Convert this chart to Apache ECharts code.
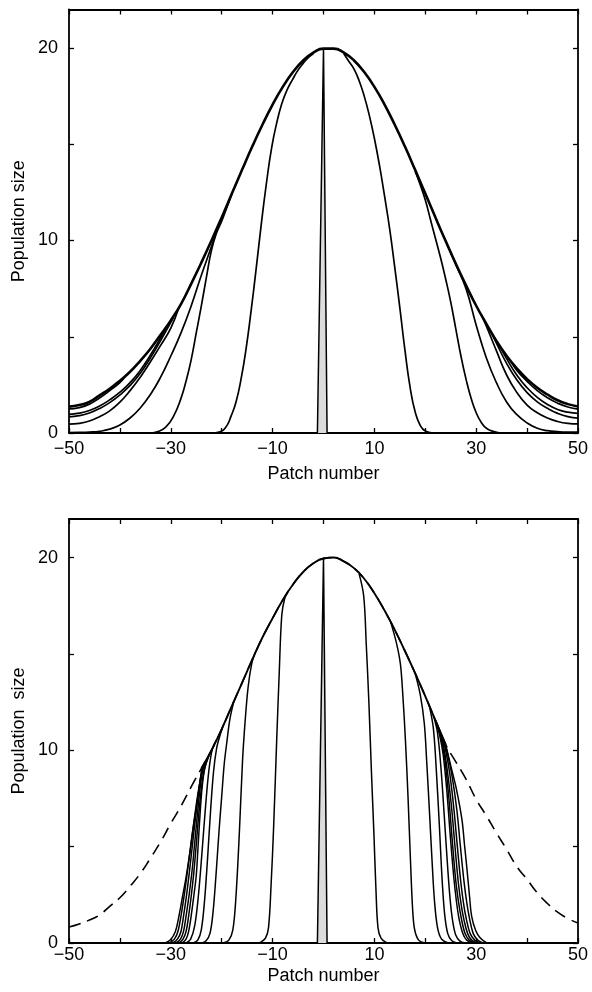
<!DOCTYPE html>
<html>
<head>
<meta charset="utf-8">
<script src="https://cdn.jsdelivr.net/npm/echarts@6/dist/echarts.min.js"></script>
<style>
html,body{margin:0;padding:0;background:#fff;}
#c{width:592px;height:992px;}
</style>
</head>
<body>
<div id="c"></div>
<script>
// ---------- axis ticks / labels ----------
const xTickValues = [-50, -40, -30, -20, -10, 0, 10, 20, 30, 40, 50];
const xLabelValues = [-50, -30, -10, 10, 30, 50];
const yTickValues = [0, 5, 10, 15, 20];
const yLabelValues = [0, 10, 20];
const xAxisTitle = 'Patch number';
const yAxisTitleTop = 'Population size';
const yAxisTitleBottom = 'Population  size';

// ---------- shared patch grid ----------
const patchGrid = [-50,-48,-46,-44,-42,-40,-38,-36,-34,-32,-30,-28,-26,-24,-22,-20,-18,-16,-14,-12,-10,-8,-6,-4,-2,0,
  2,4,6,8,10,12,14,16,18,20,22,24,26,28,30,32,34,36,38,40,42,44,46,48,50];

// ---------- top panel ----------
const topEnvelope = [1.37,1.45,1.62,1.95,2.30,2.72,3.18,3.75,4.38,5.10,5.85,6.70,7.75,8.85,10.0,11.2,12.44,13.67,14.88,16.01,17.06,17.98,18.75,19.35,19.76,19.97,
  19.97,19.76,19.35,18.75,17.98,17.06,16.01,14.88,13.67,12.44,11.19,9.97,8.79,7.67,6.61,5.67,4.77,4.00,3.35,2.80,2.35,2.00,1.70,1.50,1.38];
const initialSpike = [[-1.2,0],[0,20],[0.7,0]];
const topFront20Left = [[-22,0],[-20.5,0.05],[-19.2,0.3],[-18.2,0.85],[-17.2,1.6],[-16.2,2.8],[-15.2,4.4],[-14.2,6.4],[-13.2,8.6],[-12.2,10.9],[-11.2,13.0],[-10.2,14.8],[-9.2,16.1],[-8.2,17.1],[-7.2,17.8],[-6,18.4],[-5,18.85],[-4,19.2],[-3,19.5],[-2,19.7]];
const topFront20Right = [[4,19.7],[5,19.3],[6,18.9],[7,18.3],[8,17.5],[9,16.5],[10,15.3],[11,13.9],[12,12.3],[13,10.6],[14,8.6],[15,6.5],[16,4.3],[17,2.4],[18,1.1],[19,0.4],[20,0.1],[21.5,0]];
const topFront32Left = [[-34,0],[-32.5,0.08],[-31,0.3],[-29.5,0.85],[-28,1.8],[-27,2.7],[-26,3.8],[-25,5.2],[-24,6.6],[-23,8.1],[-22,9.5],[-21,10.4],[-20,11.0],[-19,11.7],[-18,12.4]];
const topFront32Right = [[18,13.6],[19,12.9],[20,12.1],[21,11.1],[22,10.1],[23,9.1],[24,8.0],[25,6.8],[26,5.4],[27,4.0],[28,2.8],[29,1.8],[30,1.05],[31,0.55],[32,0.25],[33.5,0.07],[35,0]];
const topFront46Left = [[-50,0.02],[-48,0.03],[-46,0.05],[-44,0.09],[-42,0.2],[-40,0.42],[-38,0.78],[-36,1.3],[-34,2.0],[-32,2.9],[-30,4.0],[-28,5.2],[-26,6.6],[-24,8.2],[-22,9.7],[-21,10.5]];
const topFront46Right = [[24,9.97],[26,8.75],[28,7.5],[30,5.6],[32,3.9],[34,2.6],[36,1.6],[38,0.95],[40,0.52],[42,0.25],[44,0.12],[46,0.07],[48,0.05],[50,0.05]];
const topEdge05Left = [[-50,0.46],[-48,0.5],[-46,0.62],[-44,0.85],[-42,1.15],[-40,1.6],[-38,2.2],[-36,2.9],[-34,3.7],[-32,4.55],[-30,5.45],[-28.5,6.45]];
const topEdge05Right = [[31,6.15],[32,5.55],[34,4.25],[36,3.0],[38,2.1],[40,1.45],[42,1.05],[44,0.78],[46,0.6],[48,0.5],[50,0.47]];
const topEdge08Left = [[-50,0.84],[-48,0.9],[-46,1.04],[-44,1.27],[-42,1.58],[-40,1.98],[-38,2.47],[-36,3.1],[-34,3.9],[-32,4.8],[-30,5.75],[-29.5,6.0]];
const topEdge08Right = [[33,5.2],[34,4.65],[36,3.6],[38,2.75],[40,2.1],[42,1.62],[44,1.28],[46,1.02],[48,0.85],[50,0.77]];
const topEdge10Left = [[-50,0.97],[-48,1.03],[-46,1.17],[-44,1.4],[-42,1.72],[-40,2.12],[-38,2.62],[-36,3.25],[-34,4.05],[-32,4.95],[-31,5.45]];
const topEdge10Right = [[35,4.35],[36,3.85],[38,3.0],[40,2.35],[42,1.85],[44,1.48],[46,1.22],[48,1.08],[50,1.02]];
const topEdge12Left = [[-50,1.25],[-48,1.32],[-46,1.5],[-44,1.82],[-42,2.2],[-40,2.62],[-39,2.92]];
const topEdge12Right = [[37,3.65],[38,3.25],[40,2.68],[42,2.2],[44,1.83],[46,1.55],[48,1.35],[50,1.24]];

// ---------- bottom panel ----------
const bottomCarrying = [0.83,0.99,1.19,1.46,1.9,2.35,2.95,3.6,4.4,5.25,6.2,7.1,8.1,9.05,10.0,11.1,12.3,13.5,14.7,15.85,16.85,17.8,18.6,19.25,19.7,19.95,
  20.0,19.8,19.45,18.9,18.15,17.25,16.25,15.15,14.0,12.8,11.55,10.3,9.4,8.5,7.45,6.6,5.7,4.85,3.96,3.3,2.6,2.05,1.6,1.27,1.04];
const occupiedRange = [-24, 24];
const botG1Left = [[-13,0],[-12.3,0.05],[-11.4,0.25],[-10.8,0.8],[-10.3,3.0],[-9.8,6.0],[-9.2,10.5],[-8.7,14.0],[-8.2,17.0],[-7.6,17.9],[-7.0,18.2]];
const botG1Right = [[7.0,19.15],[7.9,18.0],[8.4,15.5],[8.9,12.6],[9.4,9.0],[9.9,5.7],[10.3,2.8],[10.7,0.8],[11.3,0.25],[12.2,0.05],[13,0]];
const botG2Left = [[-19.8,0],[-18.6,0.15],[-17.8,0.7],[-17.2,2.4],[-16.5,5.9],[-15.9,9.5],[-15.4,11.5],[-14.8,13.3],[-14.1,14.5],[-13.4,15.1]];
const botG2Right = [[13.2,16.65],[14.3,15.6],[15.1,14.5],[15.6,12.8],[16.1,10.5],[16.6,7.6],[17.1,4.2],[17.5,1.8],[17.9,0.7],[18.7,0.15],[20,0]];
const botG3Left = [[-24,0],[-23.1,0.1],[-22.3,0.5],[-21.7,1.6],[-21.1,3.6],[-20.5,5.9],[-20.0,7.6],[-19.5,9.3],[-19.0,10.4],[-18.4,11.6],[-17.6,12.55]];
const botG3Right = [[18.0,14.0],[19.0,12.9],[19.8,11.4],[20.3,9.3],[20.8,6.9],[21.3,4.4],[21.8,2.2],[22.4,0.8],[23.2,0.2],[24.5,0]];
const botG4Left = [[-25.6,0],[-24.7,0.15],[-24.0,0.7],[-23.4,2.1],[-22.8,4.3],[-22.2,6.8],[-21.6,8.9],[-21.0,10.1],[-20.3,10.8],[-19.6,11.35]];
const botG4Right = [[20.8,12.3],[21.6,11.1],[22.2,8.8],[22.8,5.9],[23.3,3.3],[23.8,1.5],[24.4,0.5],[25.2,0.12],[26.2,0]];
const botG5Left = [[-27.0,0],[-26.1,0.2],[-25.3,0.9],[-24.6,2.4],[-23.9,4.6],[-23.2,7.0],[-22.5,9.0],[-21.8,10.1],[-21.0,10.55]];
const botG5Right = [[21.6,11.8],[22.4,10.9],[23.1,9.0],[23.8,6.3],[24.4,3.9],[24.9,2.2],[25.4,1.1],[26.0,0.4],[26.8,0.1],[27.8,0]];
const botC1Left = [[-27.8,0],[-27.0,0.2],[-26.5,0.6],[-26.0,1.4],[-25.5,2.4],[-25.0,3.5],[-24.6,5.2],[-24.2,6.9],[-23.8,8.2],[-23.3,9.1],[-22.7,9.6],[-22.0,10.0]];
const botC1Right = [[22.0,11.55],[22.8,10.8],[23.5,9.8],[24.2,8.0],[24.9,5.6],[25.6,3.4],[26.1,2.2],[26.6,1.3],[27.3,0.55],[28.1,0.15],[29.1,0]];
const botC2Left = [[-28.4,0],[-27.6,0.2],[-27.0,0.6],[-26.5,1.4],[-26.0,2.4],[-25.5,3.6],[-25.0,5.1],[-24.5,6.7],[-24.0,8.0],[-23.5,8.9],[-22.9,9.45],[-22.3,9.85]];
const botC2Right = [[22.4,11.3],[23.2,10.5],[23.9,9.4],[24.6,7.6],[25.3,5.3],[26.0,3.2],[26.6,2.0],[27.1,1.25],[27.8,0.5],[28.6,0.15],[29.6,0]];
const botC3Left = [[-29.0,0],[-28.1,0.2],[-27.5,0.6],[-27.0,1.4],[-26.4,2.5],[-25.8,3.8],[-25.3,5.2],[-24.8,6.6],[-24.3,7.9],[-23.8,8.85],[-23.2,9.4]];
const botC3Right = [[22.8,11.05],[23.6,10.2],[24.3,9.0],[25.1,7.2],[25.8,5.1],[26.5,3.1],[27.1,1.9],[27.6,1.2],[28.3,0.5],[29.1,0.15],[30.1,0]];
const botC4Left = [[-29.6,0],[-28.7,0.2],[-28.0,0.6],[-27.5,1.4],[-26.9,2.5],[-26.3,3.8],[-25.7,5.2],[-25.1,6.6],[-24.5,7.9],[-24.0,8.8],[-23.5,9.3]];
const botC4Right = [[23.2,10.8],[24.0,10.0],[24.8,8.8],[25.6,7.0],[26.3,5.0],[27.0,3.1],[27.6,1.9],[28.1,1.2],[28.8,0.5],[29.7,0.15],[30.7,0]];
const botC5Left = [[-30.3,0],[-29.3,0.2],[-28.6,0.6],[-28.0,1.4],[-27.3,2.6],[-26.6,4.0],[-25.9,5.4],[-25.3,6.6],[-24.7,7.7],[-24.1,8.6],[-23.6,9.2]];
const botC5Right = [[23.6,10.55],[24.4,9.8],[25.3,8.6],[26.2,6.9],[26.9,5.0],[27.6,3.2],[28.2,2.0],[28.7,1.25],[29.4,0.5],[30.3,0.15],[31.3,0]];
const botC6Left = [[-31.1,0],[-30.1,0.15],[-29.1,0.6],[-28.4,1.4],[-27.7,2.4],[-27.0,3.4],[-26.3,4.6],[-25.7,5.8],[-25.0,7.0],[-24.4,8.1],[-24.0,8.85],[-23.8,9.15]];
const botC6Right = [[24.0,10.3],[24.9,9.3],[26.1,8.0],[27.2,6.4],[27.7,5.1],[28.2,3.8],[28.7,2.4],[29.1,1.4],[29.9,0.65],[30.8,0.26],[32.1,0]];

// ---------- build chart ----------
const FONT = '"Liberation Sans", Arial, Helvetica, sans-serif';
const BLACK = '#000';
const fmtMinus = v => String(v).replace('-', '\u2212');
const topPairs = patchGrid.map((x, i) => [x, topEnvelope[i]]);
const botPairs = patchGrid.map((x, i) => [x, bottomCarrying[i]]);
const botOccupied = botPairs.filter(p => p[0] >= occupiedRange[0] && p[0] <= occupiedRange[1]);

function grid(top, height) {
  return { left: 69, top: top, width: 509, height: height, containLabel: false, outerBoundsMode: 'none' };
}
function xAxes(gi, labelMargin, nameGap) {
  const common = {
    type: 'value', gridIndex: gi, min: -50, max: 50,
    axisLine: { show: true, onZero: false, lineStyle: { color: BLACK, width: 1.8 } },
    axisTick: { show: true, inside: true, length: 5, customValues: xTickValues, lineStyle: { color: BLACK, width: 1.3 } },
    splitLine: { show: false }
  };
  return [
    Object.assign({}, common, {
      position: 'bottom',
      axisLabel: { show: true, customValues: xLabelValues, formatter: fmtMinus, margin: labelMargin, color: BLACK, fontSize: 18, fontFamily: FONT },
      name: xAxisTitle, nameLocation: 'middle', nameGap: nameGap, nameMoveOverlap: false,
      nameTextStyle: { color: BLACK, fontSize: 18, fontFamily: FONT }
    }),
    Object.assign({}, common, { position: 'top', axisLabel: { show: false } })
  ];
}
function yAxes(gi, title) {
  const common = {
    type: 'value', gridIndex: gi, min: 0, max: 22,
    axisLine: { show: true, onZero: false, lineStyle: { color: BLACK, width: 1.8 } },
    axisTick: { show: true, inside: true, length: 5, customValues: yTickValues, lineStyle: { color: BLACK, width: 1.3 } },
    splitLine: { show: false }
  };
  return [
    Object.assign({}, common, {
      position: 'left',
      axisLabel: { show: true, customValues: yLabelValues, margin: 11, color: BLACK, fontSize: 18, fontFamily: FONT },
      name: title, nameLocation: 'middle', nameGap: 41, nameMoveOverlap: false,
      nameTextStyle: { color: BLACK, fontSize: 18, fontFamily: FONT }
    }),
    Object.assign({}, common, { position: 'right', axisLabel: { show: false } })
  ];
}
function curve(data, axisIdx, width, extra) {
  return Object.assign({
    type: 'line', xAxisIndex: axisIdx, yAxisIndex: axisIdx, data: data,
    symbol: 'none', smooth: 0.5, clip: true, silent: true,
    lineStyle: { color: BLACK, width: width || 1.7 }, z: 3
  }, extra || {});
}
function spike(axisIdx) {
  return curve(initialSpike, axisIdx, 1.5, { smooth: false, areaStyle: { color: '#dcdcdc', opacity: 1 } });
}

const topTails = [topFront20Left, topFront20Right, topFront32Left, topFront32Right, topFront46Left, topFront46Right,
  topEdge05Left, topEdge05Right, topEdge08Left, topEdge08Right, topEdge10Left, topEdge10Right, topEdge12Left, topEdge12Right];
const botFronts = [botG1Left, botG1Right, botG2Left, botG2Right, botG3Left, botG3Right, botG4Left, botG4Right, botG5Left, botG5Right,
  botC1Left, botC1Right, botC2Left, botC2Right, botC3Left, botC3Right, botC4Left, botC4Right, botC5Left, botC5Right, botC6Left, botC6Right];

const series = [];
series.push(spike(0));
topTails.forEach(d => series.push(curve(d, 0, 1.7)));
series.push(curve(topPairs, 0, 2.6));
series.push(spike(2));
series.push(curve(botPairs, 2, 1.6, { lineStyle: { color: BLACK, width: 1.6, type: [12, 7] }, z: 2 }));
series.push(curve(botOccupied, 2, 1.9));
botFronts.forEach(d => series.push(curve(d, 2, 1.5, { smooth: 0.35 })));

const chart = echarts.init(document.getElementById('c'), null, { renderer: 'canvas' });
chart.setOption({
  animation: false,
  backgroundColor: '#fff',
  grid: [grid(9.5, 423.5), grid(519, 424)],
  xAxis: xAxes(0, 7, 32).concat(xAxes(1, 3, 24)),
  yAxis: yAxes(0, yAxisTitleTop).concat(yAxes(1, yAxisTitleBottom)),
  series: series
});
</script>
</body>
</html>
